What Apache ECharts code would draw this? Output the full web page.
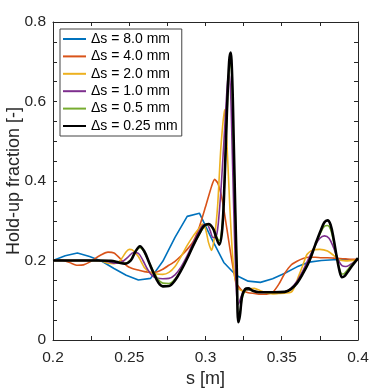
<!DOCTYPE html>
<html>
<head>
<meta charset="utf-8">
<script src="https://cdn.jsdelivr.net/npm/echarts@6/dist/echarts.min.js"></script>
<style>
html,body{margin:0;padding:0;background:#fff;}
#c{width:374px;height:388px;}
</style>
</head>
<body>
<div id="c"></div>
<script>
// ---- data (s in m, hold-up fraction) ----
const legendNames = ['\u0394s = 8.0 mm','\u0394s = 4.0 mm','\u0394s = 2.0 mm','\u0394s = 1.0 mm','\u0394s = 0.5 mm','\u0394s = 0.25 mm'];
const colors = ['#0072BD','#D95319','#EDB120','#7E2F8E','#77AC30','#000000'];

const s8  = [0.200,0.208,0.216,0.224,0.232,0.240,0.248,0.256,0.264,0.272,0.280,0.288,0.296,0.304,0.312,0.320,0.328,0.336,0.344,0.352,0.360,0.368,0.376,0.384,0.392,0.400];
const h8  = [0.200,0.212,0.219,0.210,0.198,0.180,0.163,0.151,0.155,0.198,0.258,0.311,0.319,0.255,0.195,0.163,0.148,0.145,0.154,0.168,0.184,0.196,0.200,0.202,0.202,0.202];

const s4  = [0.200,0.204,0.208,0.212,0.216,0.220,0.224,0.228,0.232,0.236,0.240,0.244,0.248,0.252,0.256,0.260,0.264,0.268,0.272,0.276,0.280,0.284,0.288,0.292,0.296,0.300,0.304,0.306,0.308,0.310,0.312,0.316,0.320,0.324,0.328,0.332,0.336,0.340,0.344,0.348,0.352,0.356,0.360,0.364,0.368,0.372,0.376,0.380,0.384,0.388,0.392,0.396,0.400];
const h4  = [0.200,0.202,0.199,0.193,0.188,0.189,0.196,0.206,0.215,0.221,0.219,0.205,0.188,0.180,0.176,0.172,0.170,0.171,0.178,0.188,0.198,0.212,0.228,0.248,0.285,0.335,0.387,0.404,0.395,0.370,0.330,0.230,0.145,0.124,0.119,0.117,0.115,0.115,0.120,0.140,0.168,0.188,0.198,0.205,0.208,0.208,0.207,0.207,0.206,0.205,0.204,0.203,0.203];

const s2  = [0.200,0.226,0.232,0.236,0.240,0.244,0.248,0.250,0.252,0.256,0.260,0.264,0.268,0.272,0.276,0.280,0.284,0.288,0.292,0.296,0.298,0.300,0.302,0.304,0.306,0.308,0.310,0.3125,0.314,0.316,0.318,0.3205,0.324,0.328,0.332,0.336,0.340,0.344,0.348,0.352,0.356,0.358,0.361,0.364,0.3665,0.370,0.375,0.380,0.384,0.387,0.392,0.400];
const h2  = [0.200,0.200,0.198,0.193,0.192,0.200,0.222,0.228,0.227,0.210,0.182,0.170,0.166,0.165,0.170,0.185,0.210,0.238,0.262,0.282,0.292,0.280,0.245,0.225,0.262,0.340,0.480,0.580,0.500,0.330,0.200,0.133,0.124,0.128,0.130,0.124,0.118,0.116,0.117,0.118,0.120,0.130,0.160,0.190,0.215,0.226,0.228,0.224,0.213,0.203,0.199,0.201];

const s1  = [0.200,0.228,0.236,0.241,0.245,0.249,0.253,0.256,0.259,0.262,0.265,0.268,0.272,0.276,0.280,0.284,0.288,0.292,0.296,0.299,0.301,0.303,0.305,0.307,0.309,0.311,0.313,0.3145,0.3155,0.3165,0.3175,0.3185,0.3195,0.3205,0.3215,0.323,0.325,0.328,0.332,0.336,0.352,0.356,0.360,0.364,0.368,0.372,0.375,0.378,0.381,0.384,0.387,0.3895,0.392,0.395,0.400];
const h1  = [0.200,0.200,0.197,0.193,0.196,0.208,0.220,0.218,0.200,0.178,0.162,0.156,0.154,0.155,0.164,0.184,0.212,0.245,0.275,0.290,0.290,0.276,0.258,0.260,0.320,0.430,0.560,0.650,0.670,0.620,0.480,0.330,0.200,0.110,0.090,0.105,0.122,0.126,0.123,0.121,0.121,0.130,0.148,0.175,0.208,0.238,0.256,0.262,0.256,0.232,0.202,0.187,0.185,0.190,0.202];

const s05 = [0.200,0.230,0.238,0.243,0.247,0.251,0.254,0.257,0.260,0.263,0.266,0.269,0.272,0.276,0.280,0.284,0.288,0.292,0.296,0.299,0.302,0.305,0.307,0.309,0.311,0.3125,0.314,0.3155,0.3165,0.3175,0.3185,0.3195,0.3205,0.3215,0.3225,0.324,0.326,0.328,0.331,0.335,0.352,0.356,0.360,0.364,0.368,0.372,0.3755,0.378,0.380,0.382,0.384,0.386,0.388,0.3895,0.391,0.393,0.396,0.400];
const h05 = [0.200,0.200,0.199,0.196,0.193,0.202,0.222,0.232,0.220,0.196,0.172,0.152,0.143,0.142,0.153,0.177,0.206,0.238,0.266,0.284,0.290,0.280,0.262,0.250,0.290,0.400,0.560,0.680,0.700,0.640,0.480,0.320,0.180,0.060,0.065,0.105,0.124,0.127,0.123,0.121,0.121,0.128,0.143,0.168,0.198,0.238,0.270,0.286,0.288,0.278,0.248,0.210,0.178,0.166,0.167,0.176,0.190,0.205];

const s025 = [0.200,0.230,0.238,0.243,0.247,0.251,0.254,0.257,0.260,0.263,0.266,0.269,0.272,0.276,0.280,0.284,0.288,0.292,0.296,0.299,0.302,0.305,0.307,0.309,0.311,0.3125,0.314,0.3155,0.3165,0.3175,0.3185,0.3195,0.3205,0.3215,0.3225,0.324,0.326,0.328,0.331,0.335,0.345,0.352,0.356,0.360,0.364,0.368,0.372,0.3755,0.378,0.380,0.382,0.384,0.386,0.388,0.3895,0.391,0.393,0.396,0.400];
const h025 = [0.200,0.200,0.199,0.195,0.192,0.200,0.222,0.236,0.222,0.195,0.168,0.145,0.135,0.136,0.150,0.175,0.205,0.238,0.268,0.287,0.292,0.280,0.258,0.240,0.280,0.400,0.570,0.700,0.723,0.660,0.500,0.330,0.180,0.045,0.060,0.110,0.128,0.130,0.124,0.120,0.120,0.121,0.128,0.143,0.168,0.198,0.240,0.275,0.296,0.301,0.290,0.255,0.210,0.172,0.158,0.160,0.170,0.186,0.206];

const xTicks = [0.2,0.25,0.3,0.35,0.4];
const yTicks = [0,0.2,0.4,0.6,0.8];

const seriesX = [s8,s4,s2,s1,s05,s025];
const seriesY = [h8,h4,h2,h1,h05,h025];
const widths = [1.6,1.6,1.6,1.6,1.6,2.6];
const smooths = [false,0.2,0.2,0.35,0.35,0.35];

const FONT = '"Liberation Sans", Arial, Helvetica, sans-serif';
const AX = '#262626';

const chart = echarts.init(document.getElementById('c'), null, {renderer:'canvas'});

function fmt(v){ return String(+(+v).toFixed(3)); }

const commonTick = {show:true, inside:true, length:4, lineStyle:{color:AX,width:1}};
const commonMinor = {show:true, splitNumber:2, length:4, lineStyle:{color:AX,width:1}};

const option = {
  animation:false,
  backgroundColor:'#fff',
  grid:{left:53, right:16, top:22, bottom:48, containLabel:false, outerBoundsMode:'none'},
  legend:{
    show:true, orient:'vertical', left:60, top:29,
    data:legendNames,
    itemWidth:23, itemHeight:14, itemGap:3.4,
    padding:[3,4,3,2],
    backgroundColor:'#fff', borderColor:'#444', borderWidth:1,
    itemStyle:{opacity:0},
    textStyle:{fontFamily:FONT, fontSize:14, color:'#000'}
  },
  xAxis:[
    {type:'value', position:'bottom', min:0.2, max:0.4, interval:0.05,
     axisLine:{show:true, onZero:false, lineStyle:{color:AX,width:1}},
     axisTick:Object.assign({}, commonTick),
     minorTick:Object.assign({}, commonMinor, {splitNumber:2}),
     splitLine:{show:false},
     axisLabel:{show:true, margin:10, fontFamily:FONT, fontSize:15.5, color:AX,
                formatter:function(v){ return xTicks.some(t=>Math.abs(t-v)<1e-9)? fmt(v):''; }},
     name:'s [m]', nameLocation:'middle', nameGap:30, nameMoveOverlap:false,
     nameTextStyle:{fontFamily:FONT, fontSize:18, color:AX}},
    {type:'value', position:'top', min:0.2, max:0.4, interval:0.05,
     axisLine:{show:true, onZero:false, lineStyle:{color:AX,width:1}},
     axisTick:Object.assign({}, commonTick),
     minorTick:Object.assign({}, commonMinor, {splitNumber:2}),
     splitLine:{show:false}, axisLabel:{show:false}}
  ],
  yAxis:[
    {type:'value', position:'left', min:0, max:0.8, interval:0.2,
     axisLine:{show:true, onZero:false, lineStyle:{color:AX,width:1}},
     axisTick:Object.assign({}, commonTick),
     minorTick:Object.assign({}, commonMinor, {splitNumber:4}),
     splitLine:{show:false},
     axisLabel:{show:true, margin:7, fontFamily:FONT, fontSize:15.5, color:AX,
                formatter:function(v){ return yTicks.some(t=>Math.abs(t-v)<1e-9)? fmt(v):''; }},
     name:'Hold-up fraction [-]', nameLocation:'middle', nameGap:30, nameMoveOverlap:false,
     nameTextStyle:{fontFamily:FONT, fontSize:18, color:AX}},
    {type:'value', position:'right', min:0, max:0.8, interval:0.2,
     axisLine:{show:true, onZero:false, lineStyle:{color:AX,width:1}},
     axisTick:Object.assign({}, commonTick),
     minorTick:Object.assign({}, commonMinor, {splitNumber:4}),
     splitLine:{show:false}, axisLabel:{show:false}}
  ],
  series: legendNames.map(function(name,i){
    return {
      name:name, type:'line', xAxisIndex:0, yAxisIndex:0,
      data: seriesX[i].map(function(x,j){ return [x, seriesY[i][j]]; }),
      symbol:'none', showSymbol:false,
      smooth: smooths[i],
      lineStyle:{color:colors[i], width:widths[i]},
      itemStyle:{color:colors[i]},
      z: 2+i
    };
  })
};
chart.setOption(option);
</script>
</body>
</html>
